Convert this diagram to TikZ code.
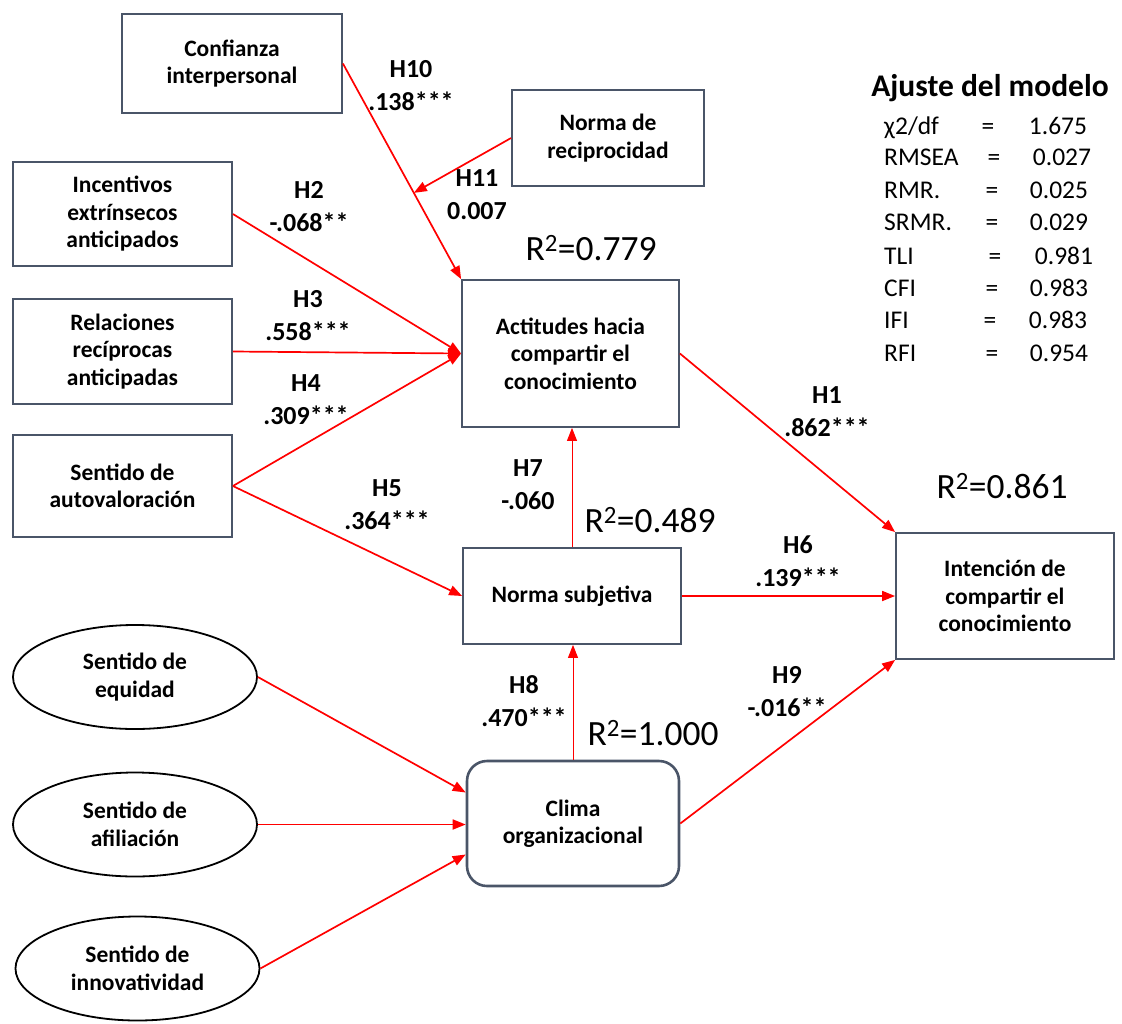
\documentclass[tikz,border=0pt]{standalone}
\usepackage{fontspec}
\setmainfont{Carlito}
\usetikzlibrary{arrows.meta,shapes.geometric,calc}
\definecolor{boxc}{HTML}{4A5568}
\definecolor{arrc}{HTML}{FF0000}
\begin{document}
\begin{tikzpicture}[x=1pt,y=-1pt,
  box/.style={draw=boxc, line width=1.8pt, align=center, inner sep=0pt,
    font=\bfseries\fontsize{23.5}{27.5}\selectfont},
  oval/.style={draw=black, line width=1.8pt, ellipse, align=center, inner sep=0pt,
    minimum width=244pt, minimum height=104pt, font=\bfseries\fontsize{23.5}{27.5}\selectfont},
  arr/.style={draw=arrc, line width=1.7pt, -{Triangle[length=13pt,width=10pt]}},
  tarr/.style={draw=arrc, line width=1pt, -{Triangle[length=13pt,width=10pt]}},
  hlab/.style={align=center, inner sep=0pt, font=\bfseries\fontsize{26}{33}\selectfont},
  rsq/.style={inner sep=0pt, font=\fontsize{35.5}{38}\selectfont},
  fitn/.style={inner sep=0pt, anchor=base west, font=\fontsize{25.5}{28}\selectfont},
  fitv/.style={inner sep=0pt, anchor=base, font=\fontsize{25.5}{28}\selectfont}
]
\useasboundingbox (0,0) rectangle (1122,1023);

% boxes
\node[box, minimum width=220pt, minimum height=99pt] (conf) at (232,63.5) {Confianza\\interpersonal};
\node[box, minimum width=192pt, minimum height=96pt] (nrec) at (608,138) {Norma de\\reciprocidad};
\node[box, minimum width=219pt, minimum height=104pt] (inc) at (122.5,214) {Incentivos\\extrínsecos\\anticipados};
\node[box, minimum width=219pt, minimum height=105pt] (rel) at (122.5,351.5) {Relaciones\\recíprocas\\anticipadas};
\node[box, minimum width=219pt, minimum height=102pt] (auto) at (122.5,486) {Sentido de\\autovaloración};
\node[box, minimum width=217pt, minimum height=147pt] (act) at (570.5,353.5) {Actitudes hacia\\compartir el\\conocimiento};
\node[box, minimum width=218pt, minimum height=96pt] (nsub) at (572,596) {Norma subjetiva};
\node[box, minimum width=218pt, minimum height=126pt] (int) at (1005,596) {Intención de\\compartir el\\conocimiento};
\node[box, line width=2.6pt, rounded corners=20pt, minimum width=212pt, minimum height=125pt] (clim) at (573,823.5) {Clima\\organizacional};

% ellipses
\node[oval] (equ) at (135,677) {Sentido de\\equidad};
\node[oval] (afi) at (135,824.5) {Sentido de\\afiliación};
\node[oval] (inn) at (137.5,968.5) {Sentido de\\innovatividad};

% connectors
\coordinate (h11end) at ($(conf.east)!0.6!(act.north west)$);
\draw[arr] (conf.east) -- (act.north west);
\draw[arr] (nrec.west) -- (h11end);
\draw[arr] (inc.east) -- (act.west);
\draw[arr] (rel.east) -- (act.west);
\draw[arr] (auto.east) -- (act.west);
\draw[arr] (auto.east) -- (nsub.west);
\draw[tarr] (nsub.north) -- (nsub.north |- act.south);
\draw[tarr] (clim.north) -- (clim.north |- nsub.south);
\draw[arr] (act.east) -- (int.north west);
\draw[arr] (nsub.east) -- (nsub.east -| int.west);
\draw[arr] (clim.east) -- (int.south west);
\draw[arr] (equ.east) -- ($(clim.west)+(0,-31)$);
\draw[arr] (afi.east) -- (afi.east -| clim.west);
\draw[arr] (inn.east) -- ($(clim.west)+(0,31)$);

% path labels
\node[hlab] (l10) at (411,86) {H10\\.138***};
\node[hlab] (l11) at (477,195) {H11\\0.007};
\node[hlab] (l2) at (309,207) {H2\\-.068**};
\node[hlab] (l3) at (308,316) {H3\\.558***};
\node[hlab] (l4) at (306,400) {H4\\.309***};
\node[hlab] (l5) at (387,505) {H5\\.364***};
\node[hlab] (l7) at (528,485) {H7\\-.060};
\node[hlab] (l1) at (827,412) {H1\\.862***};
\node[hlab] (l6) at (798,561) {H6\\.139***};
\node[hlab] (l8) at (524,701) {H8\\.470***};
\node[hlab] (l9) at (787,692) {H9\\-.016**};

% R squared
\node[rsq] (r1) at (591,248) {R\textsuperscript{2}=0.779};
\node[rsq] (r2) at (650,520) {R\textsuperscript{2}=0.489};
\node[rsq] (r3) at (1002,486) {R\textsuperscript{2}=0.861};
\node[rsq] (r4) at (653,733) {R\textsuperscript{2}=1.000};

% fit table
\node[inner sep=0pt, font=\bfseries\fontsize{31.5}{34}\selectfont] (fit) at (990,88) {Ajuste del modelo};
\node[fitn] (n1) at (884,134) {χ2/df};   \node[fitv] (e1) at (988,134) {=}; \node[fitv] (v1) at (1058,134) {1.675};
\node[fitn] (n2) at (884,165) {RMSEA};   \node[fitv] (e2) at (994,165) {=}; \node[fitv] (v2) at (1062,165) {0.027};
\node[fitn] (n3) at (884,198) {RMR.};    \node[fitv] (e3) at (992,198) {=}; \node[fitv] (v3) at (1059,198) {0.025};
\node[fitn] (n4) at (884,230) {SRMR.};   \node[fitv] (e4) at (992,230) {=}; \node[fitv] (v4) at (1059,230) {0.029};
\node[fitn] (n5) at (884,264) {TLI};     \node[fitv] (e5) at (995,264) {=}; \node[fitv] (v5) at (1064,264) {0.981};
\node[fitn] (n6) at (884,296) {CFI};     \node[fitv] (e6) at (992,296) {=}; \node[fitv] (v6) at (1059,296) {0.983};
\node[fitn] (n7) at (884,328) {IFI};     \node[fitv] (e7) at (990,328) {=}; \node[fitv] (v7) at (1058,328) {0.983};
\node[fitn] (n8) at (884,361) {RFI};     \node[fitv] (e8) at (992,361) {=}; \node[fitv] (v8) at (1059,361) {0.954};
\end{tikzpicture}
\end{document}
